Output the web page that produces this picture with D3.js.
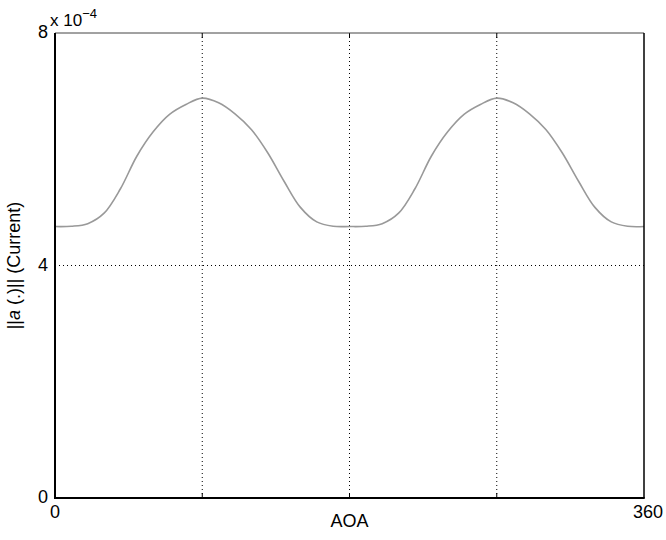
<!DOCTYPE html>
<html>
<head>
<meta charset="utf-8">
<script src="https://cdn.jsdelivr.net/npm/d3@7"></script>
<style>
  body { margin: 0; background: #fff; }
  text { font-family: "Liberation Sans", Arial, sans-serif; fill: #000; }
</style>
</head>
<body>
<div id="chart"></div>
<script>
// angle of arrival (degrees) and current magnitude (x 1e-4)
var aoa = [0, 10, 20, 30, 40, 50, 60, 70, 80, 90, 100, 110, 120, 130, 140, 150, 160, 170,
           180, 190, 200, 210, 220, 230, 240, 250, 260, 270, 280, 290, 300, 310, 320, 330, 340, 350, 360]
var current = [4.67, 4.675, 4.72, 4.90, 5.32, 5.88, 6.30, 6.60, 6.77, 6.88, 6.80, 6.61, 6.34, 5.94, 5.45, 5.00, 4.75, 4.675,
               4.67, 4.675, 4.72, 4.90, 5.32, 5.88, 6.30, 6.60, 6.77, 6.88, 6.80, 6.61, 6.34, 5.94, 5.45, 5.00, 4.75, 4.675, 4.67]
var xGrid = [90, 180, 270]
var yGrid = [4]
var xLabels = [0, 360]
var yLabels = [0, 4, 8]

var margin = { top: 33, right: 22, bottom: 42, left: 55 },
    width = 666 - margin.left - margin.right,
    height = 540 - margin.top - margin.bottom

var svg = d3.select("#chart")
    .append("svg")
    .attr("width", 666)
    .attr("height", 540)
    .append("g")
    .attr("transform", "translate(" + margin.left + "," + margin.top + ")")

var x = d3.scaleLinear().domain([0, 360]).range([0, width])
var y = d3.scaleLinear().domain([0, 8]).range([height, 0])

// dotted grid
svg.selectAll(".vgrid").data(xGrid).enter().append("line")
    .attr("x1", d => x(d)).attr("x2", d => x(d))
    .attr("y1", 0).attr("y2", height)
    .attr("stroke", "#000").attr("stroke-width", 1)
    .attr("stroke-dasharray", "1,3")
svg.selectAll(".hgrid").data(yGrid).enter().append("line")
    .attr("x1", 0).attr("x2", width)
    .attr("y1", d => y(d)).attr("y2", d => y(d))
    .attr("stroke", "#000").attr("stroke-width", 1)
    .attr("stroke-dasharray", "1,3")

// small inside ticks at top and bottom
xGrid.forEach(function (d) {
    svg.append("line").attr("x1", x(d)).attr("x2", x(d)).attr("y1", height).attr("y2", height - 5)
        .attr("stroke", "#000")
    svg.append("line").attr("x1", x(d)).attr("x2", x(d)).attr("y1", 0).attr("y2", 5)
        .attr("stroke", "#000")
})

var line = d3.line()
    .x((d, i) => x(aoa[i]))
    .y(d => y(d))
    .curve(d3.curveCatmullRom)

svg.append("path")
    .datum(current)
    .attr("d", line)
    .attr("fill", "none")
    .attr("stroke", "#999")
    .attr("stroke-width", 1.6)

// frame
svg.append("line").attr("x1", 0).attr("x2", width).attr("y1", 0).attr("y2", 0)
    .attr("stroke", "#444").attr("stroke-width", 1)
svg.append("line").attr("x1", width).attr("x2", width).attr("y1", 0).attr("y2", height)
    .attr("stroke", "#000").attr("stroke-width", 1.5)
svg.append("line").attr("x1", 0).attr("x2", 0).attr("y1", 0).attr("y2", height + 1)
    .attr("stroke", "#000").attr("stroke-width", 2)
svg.append("line").attr("x1", -1).attr("x2", width + 0.75).attr("y1", height).attr("y2", height)
    .attr("stroke", "#000").attr("stroke-width", 2)

// tick labels
svg.selectAll(".xl").data(xLabels).enter().append("text")
    .attr("x", d => x(d) + (d === 360 ? 4 : 0)).attr("y", height + 20)
    .attr("text-anchor", "middle")
    .attr("font-size", 18)
    .text(d => d)
svg.selectAll(".yl").data(yLabels).enter().append("text")
    .attr("x", -7).attr("y", d => y(d) + 5)
    .attr("text-anchor", "end")
    .attr("font-size", 18)
    .text(d => d)

// exponent
var ex = svg.append("text").attr("x", -5).attr("y", -7).attr("font-size", 17)
ex.append("tspan").text("x 10")
ex.append("tspan").attr("dy", -8).attr("font-size", 13).text("\u22124")

// axis titles
svg.append("text")
    .attr("x", width / 2).attr("y", height + 29)
    .attr("text-anchor", "middle")
    .attr("font-size", 18)
    .text("AOA")

var yt = svg.append("text")
    .attr("transform", "translate(" + (-35) + "," + (y(4)) + ") rotate(-90)")
    .attr("text-anchor", "middle")
    .attr("font-size", 18)
yt.append("tspan").text("||")
yt.append("tspan").attr("font-style", "italic").text("a")
yt.append("tspan").text(" (.)|| (Current)")
</script>
</body>
</html>
